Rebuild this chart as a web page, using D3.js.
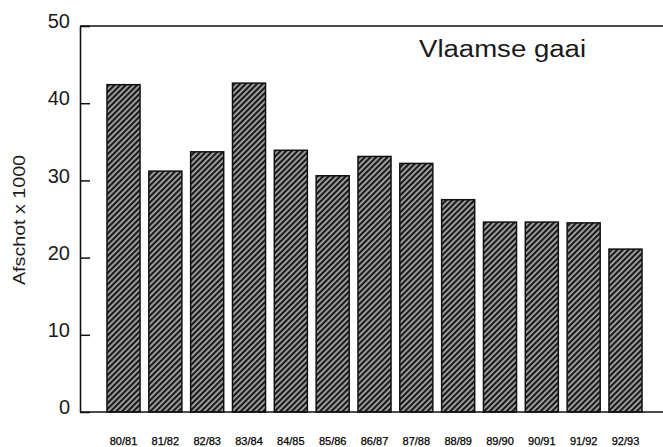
<!DOCTYPE html>
<html>
<head>
<meta charset="utf-8">
<script src="https://cdn.jsdelivr.net/npm/d3@7"></script>
<style>
  body { margin: 0; background: #fff; }
  text { font-family: "Liberation Sans", Arial, sans-serif; fill: #1a1a1a; }
</style>
</head>
<body>
<div id="chart"></div>
<script>
// seasons and afschot (x 1000)
let seasons = ["80/81", "81/82", "82/83", "83/84", "84/85", "85/86", "86/87",
               "87/88", "88/89", "89/90", "90/91", "91/92", "92/93"];
let afschot = [42.4, 31.2, 33.7, 42.6, 33.9, 30.6, 33.1, 32.2, 27.5, 24.6, 24.6, 24.5, 21.1];
let yTicks = [0, 10, 20, 30, 40, 50];
let title = "Vlaamse gaai";
let yTitle = "Afschot x 1000";

let data = seasons.map((s, i) => ({ season: s, value: afschot[i] }));

let width = 663, height = 447;
let margin = { top: 26, right: 0, bottom: 35, left: 80 };

let svg = d3.select("#chart").append("svg")
	.attr("width", width)
	.attr("height", height);

// hatch pattern for the bars
let pat = svg.append("defs").append("pattern")
	.attr("id", "hatch")
	.attr("patternUnits", "userSpaceOnUse")
	.attr("width", 4)
	.attr("height", 4)
	.attr("patternTransform", "rotate(45)");
pat.append("rect")
	.attr("width", 4).attr("height", 4)
	.attr("fill", "#b0b0b0");
pat.append("rect")
	.attr("width", 2.3).attr("height", 4)
	.attr("fill", "#1a1a1a");

// scales
let x = d3.scaleBand()
	.domain(seasons)
	.range([102.6, 646.4])
	.paddingInner(0.21)
	.paddingOuter(0.105);

let y = d3.scaleLinear()
	.domain([0, 50])
	.range([412, margin.top]);

// top frame line runs to the right edge
svg.append("line")
	.attr("x1", margin.left).attr("x2", width)
	.attr("y1", y(50)).attr("y2", y(50))
	.attr("stroke", "#111").attr("stroke-width", 1.6);

// bars
svg.append("g")
	.selectAll("rect")
	.data(data)
	.enter().append("rect")
	.attr("x", d => x(d.season))
	.attr("y", d => y(d.value))
	.attr("width", x.bandwidth())
	.attr("height", d => y(0) - y(d.value))
	.attr("fill", "url(#hatch)")
	.attr("stroke", "#111")
	.attr("stroke-width", 1.5);

svg.append("line")
	.attr("x1", margin.left).attr("x2", width)
	.attr("y1", y(0)).attr("y2", y(0))
	.attr("stroke", "#111").attr("stroke-width", 1.6);

// y axis, ticks pointing inward
let yAxis = d3.axisLeft(y)
	.tickValues(yTicks)
	.tickSizeInner(-10)
	.tickSizeOuter(0)
	.tickPadding(10);

let gy = svg.append("g")
	.attr("transform", "translate(" + margin.left + ",0)")
	.call(yAxis);
gy.select(".domain").attr("stroke", "#111").attr("stroke-width", 1.6);
gy.selectAll(".tick line").attr("stroke", "#111").attr("stroke-width", 1.5);
gy.selectAll(".tick text")
	.attr("dy", "0.08em")
	.style("font-size", "20px")
	.style("fill", "#1a1a1a");

// x labels
svg.append("g")
	.selectAll("text")
	.data(seasons)
	.enter().append("text")
	.attr("x", d => x(d) + x.bandwidth() / 2)
	.attr("y", 445)
	.attr("text-anchor", "middle")
	.style("font-size", "11px")
	.style("fill", "#000")
	.style("stroke", "#000")
	.style("stroke-width", 0.25)
	.text(d => d);

// y axis title
svg.append("text")
	.attr("transform", "translate(25,220) rotate(-90)")
	.attr("text-anchor", "middle")
	.attr("textLength", 130)
	.attr("lengthAdjust", "spacingAndGlyphs")
	.style("font-size", "17px")
	.text(yTitle);

// chart title
svg.append("text")
	.attr("x", 419)
	.attr("y", 57)
	.attr("textLength", 167)
	.attr("lengthAdjust", "spacingAndGlyphs")
	.style("font-size", "23px")
	.text(title);
</script>
</body>
</html>
